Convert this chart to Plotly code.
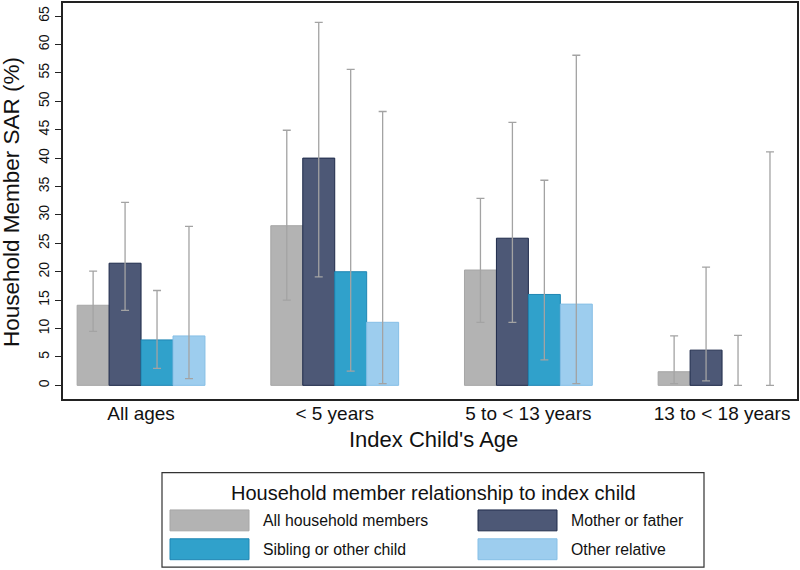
import plotly.graph_objects as go

categories = ["All ages", "< 5 years", "5 to < 13 years", "13 to < 18 years"]
series_names = ["All household members", "Mother or father", "Sibling or other child", "Other relative"]

sar_all = [14.1, 28.1, 20.3, 2.4]
sar_parent = [21.5, 40.0, 25.9, 6.2]
sar_sibling = [8.0, 20.0, 16.0, 0.0]
sar_other = [8.7, 11.1, 14.3, 0.0]

lo_all = [9.5, 15.0, 11.1, 0.3]
hi_all = [20.1, 44.9, 32.9, 8.7]
lo_parent = [13.2, 19.1, 11.1, 0.8]
hi_parent = [32.2, 63.9, 46.3, 20.8]
lo_sibling = [3.0, 2.5, 4.5, 0.0]
hi_sibling = [16.7, 55.6, 36.1, 8.8]
lo_other = [1.2, 0.3, 0.3, 0.0]
hi_other = [28.0, 48.2, 58.1, 41.1]

y_ticks = list(range(0, 70, 5))

fills = ["#b3b3b3", "#4d5876", "#30a1cb", "#9dcdee"]
edges = ["#a6a6a6", "#1e2a4a", "#1f86b3", "#86bfe6"]

values = [sar_all, sar_parent, sar_sibling, sar_other]
lows = [lo_all, lo_parent, lo_sibling, lo_other]
highs = [hi_all, hi_parent, hi_sibling, hi_other]

fig = go.Figure()
for name, v, lo, hi, fc, ec in zip(series_names, values, lows, highs, fills, edges):
    fig.add_trace(go.Bar(
        x=categories, y=v, name=name,
        marker=dict(color=fc, line=dict(color=ec, width=[1 if a > 0 else 0 for a in v])),
        error_y=dict(type="data", symmetric=False,
                     array=[h - a for h, a in zip(hi, v)],
                     arrayminus=[a - l for a, l in zip(v, lo)],
                     color="#a3a3a3", thickness=1.3, width=4),
        showlegend=False,
    ))

W, H = 800, 570
L, R, T, B = 63, 797, 1, 399


def px(xp):
    return (xp - L) / (R - L)


def py(yp):
    return (B - yp) / (B - T)


shapes = [dict(type="rect", xref="paper", yref="paper",
               x0=px(162), x1=px(704), y0=py(473), y1=py(568),
               line=dict(color="#333333", width=1.2), fillcolor="white")]
annotations = [dict(text="Household member relationship to index child",
                    xref="paper", yref="paper", x=px(433), y=py(493),
                    showarrow=False, xanchor="center", yanchor="middle",
                    font=dict(size=20, color="#111111"))]
col_x = [170, 478]
row_y = [521, 550]
for i, (name, fc, ec) in enumerate(zip(series_names, fills, edges)):
    cx = col_x[i % 2]
    cy = row_y[i // 2]
    shapes.append(dict(type="rect", xref="paper", yref="paper",
                       x0=px(cx), x1=px(cx + 79), y0=py(cy - 10.5), y1=py(cy + 10.5),
                       line=dict(color=ec, width=1), fillcolor=fc))
    annotations.append(dict(text=name, xref="paper", yref="paper",
                            x=px(cx + 91), y=py(cy), showarrow=False,
                            xanchor="left", yanchor="middle",
                            font=dict(size=15.8, color="#111111")))

annotations.append(dict(text="Household Member SAR (%)", xref="paper", yref="paper",
                        x=px(12), y=py(201), textangle=-90, showarrow=False,
                        xanchor="center", yanchor="middle",
                        font=dict(size=22.5, color="#111111")))
annotations.append(dict(text="Index Child's Age", xref="paper", yref="paper",
                        x=px(433), y=py(440), showarrow=False,
                        xanchor="center", yanchor="middle",
                        font=dict(size=22, color="#111111")))

fig.update_layout(
    width=W, height=H,
    margin=dict(l=L, r=W - R, t=T, b=H - B),
    paper_bgcolor="white", plot_bgcolor="white",
    barmode="group", bargap=0.34, bargroupgap=0,
    font=dict(family="Liberation Sans, Arial, sans-serif", color="#111111"),
    shapes=shapes, annotations=annotations,
    xaxis=dict(range=[-0.403, 3.387], showline=True, linecolor="#222222", linewidth=2,
               mirror=True, ticks="", tickfont=dict(size=19), showgrid=False,
               zeroline=False, ticklabelstandoff=-4),
    yaxis=dict(range=[-2.4, 67.3], tickvals=y_ticks, showline=True, linecolor="#222222",
               linewidth=2, mirror=True, ticks="outside", ticklen=6, tickcolor="#222222",
               tickangle=-90, tickfont=dict(size=14), showgrid=False, zeroline=False),
)

fig.write_html("out.html", config={"displayModeBar": False},
               post_script="document.body.style.margin='0';")
